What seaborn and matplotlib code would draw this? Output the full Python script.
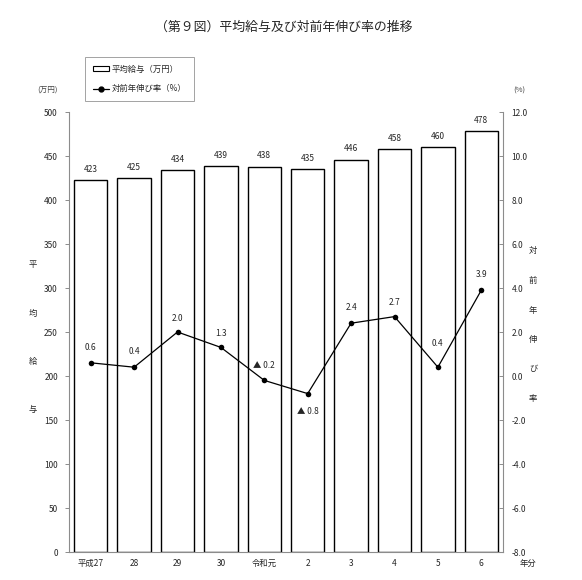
import numpy as np
import pandas as pd
import matplotlib
matplotlib.use("Agg")
import matplotlib.pyplot as plt
import seaborn as sns
from matplotlib.patches import Patch
from matplotlib.lines import Line2D

# data
years = ["平成27", "28", "29", "30", "令和元", "2", "3", "4", "5", "6"]
salary = [423, 425, 434, 439, 438, 435, 446, 458, 460, 478]
growth = [0.6, 0.4, 2.0, 1.3, -0.2, -0.8, 2.4, 2.7, 0.4, 3.9]

sns.set_style("white")
plt.rcParams["font.family"] = ["Noto Sans CJK JP", "DejaVu Sans"]

axis_gray = "#8c8c8c"

df = pd.DataFrame({"year": years, "salary": salary, "growth": growth})

fig = plt.figure(figsize=(5.82, 5.80), dpi=100)
ax = fig.add_axes([69 / 582, 28 / 580, 434 / 582, 440 / 580])

sns.barplot(data=df, x="year", y="salary", ax=ax, color="white",
            edgecolor="black", linewidth=1.0, width=0.77, saturation=1)
ax.set_xlim(-0.5, len(years) - 0.5)
ax.set_ylim(0, 500)
ax.set_yticks(np.arange(0, 501, 50))
ax.set_xlabel("")
ax.set_ylabel("")

for i, v in enumerate(salary):
    ax.text(i, v + 7, str(v), ha="center", va="bottom", fontsize=6)

ax2 = ax.twinx()
sns.lineplot(x=np.arange(len(years)), y=growth, ax=ax2, color="black",
             linewidth=0.9, marker="o", markersize=4, markeredgewidth=0)
ax2.set_ylim(-8, 12)
ax2.set_yticks(np.arange(-8, 12.1, 2))
ax2.set_yticklabels([f"{t:.1f}" for t in np.arange(-8, 12.1, 2)])

offsets = [11, 11, 10, 10, 11, -13, 11, 10, 17, 11]
for i, v in enumerate(growth):
    lab = f"▲ {abs(v):.1f}" if v < 0 else f"{v:.1f}"
    dx = 0.02 if v < 0 else 0
    ax2.annotate(lab, (i, v), xytext=(dx, offsets[i]), textcoords="offset points",
                 ha="center", va="center", fontsize=6)

for a in (ax, ax2):
    a.spines["top"].set_visible(False)
    for s in a.spines.values():
        s.set_color(axis_gray)
        s.set_linewidth(0.8)

ax.spines["right"].set_visible(False)
ax2.spines["left"].set_visible(False)
ax2.spines["bottom"].set_visible(False)

ax.tick_params(axis="y", direction="out", length=3, width=0.7, color=axis_gray,
               labelsize=6, pad=5)
ax.tick_params(axis="x", length=0, labelsize=6, pad=5)
ax2.tick_params(axis="y", direction="in", length=3, width=0.7, color=axis_gray,
                labelsize=6, pad=6)

fig.text(528 / 582, 1 - 563 / 580, "年分", fontsize=6, ha="center", va="center")

# axis titles
fig.text(47 / 582, 1 - 91 / 580, "(万円)", fontsize=5.5, ha="center", va="center",
         color="#444444")
fig.text(519 / 582, 1 - 91 / 580, "(%)", fontsize=5.5, ha="center", va="center",
         color="#444444")
for k, ch in enumerate("平均給与"):
    fig.text(33 / 582, 1 - (265 + k * 48) / 580, ch, fontsize=6, ha="center", va="center")
for k, ch in enumerate("対前年伸び率"):
    fig.text(533 / 582, 1 - (251 + k * 29.5) / 580, ch, fontsize=6, ha="center", va="center")

fig.text(0.487, 1 - 27 / 580, "（第９図）平均給与及び対前年伸び率の推移", fontsize=9.3,
         ha="center", va="center")

handles = [
    Patch(facecolor="white", edgecolor="black", linewidth=0.8),
    Line2D([], [], color="black", linewidth=0.9, marker="o", markersize=3.5),
]
leg = fig.legend(handles, ["平均給与（万円）", "対前年伸び率（%）"],
                 loc="upper left", bbox_to_anchor=(85 / 582, 1 - 57 / 580),
                 fontsize=6, frameon=True, fancybox=False, handlelength=2,
                 handleheight=0.6, handletextpad=0.3, labelspacing=1.3,
                 borderpad=0.9, borderaxespad=0)
leg.get_frame().set_edgecolor(axis_gray)
leg.get_frame().set_linewidth(0.7)

fig.savefig("out.png", dpi=100)
